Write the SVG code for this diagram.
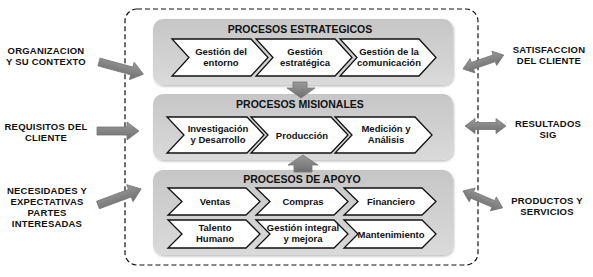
<svg xmlns="http://www.w3.org/2000/svg" width="593" height="277" viewBox="0 0 593 277">
<defs>
<linearGradient id="pg" x1="0" y1="0" x2="0" y2="1">
<stop offset="0" stop-color="#c6c6c6"/>
<stop offset="1" stop-color="#dadada"/>
</linearGradient>
<linearGradient id="ag" x1="0" y1="0" x2="0" y2="1">
<stop offset="0" stop-color="#9a9a9a"/>
<stop offset="1" stop-color="#6e6e6e"/>
</linearGradient>
<filter id="sh" x="-5%" y="-5%" width="110%" height="115%">
<feDropShadow dx="1" dy="1.5" stdDeviation="1" flood-color="#000" flood-opacity="0.25"/>
</filter>
</defs>
<style>
.panel{fill:url(#pg);filter:url(#sh)}
.chev{fill:#fff;stroke:#111;stroke-width:1.3;stroke-linejoin:miter}
.t{font-family:"Liberation Sans",Arial,sans-serif;font-weight:bold;fill:#111;text-anchor:middle}
.title{font-size:10.5px}
.ct{font-size:9.5px}
.st{font-size:9.5px;letter-spacing:0.2px}
.arr{fill:url(#ag);stroke:#777;stroke-width:0.8}
.dash{fill:none;stroke:#111;stroke-width:1.2;stroke-dasharray:5,3}
</style>
<rect width="593" height="277" fill="#fff"/>
<rect class="dash" x="125" y="9" width="353" height="256" rx="12"/>

<g id="estrategicos">
<rect class="panel" x="153" y="19" width="300" height="66" rx="10"/>
<text class="t title" x="300" y="33">PROCESOS ESTRATEGICOS</text>
</g>
<g id="gestion-entorno">
<path class="chev" d="M172,39 L251,39 L268,57.5 L251,76 L172,76 L189,57.5 Z"/>
<text class="t ct" x="221" y="55">Gestión del</text>
<text class="t ct" x="221" y="66">entorno</text>
</g>
<g id="gestion-estrategica">
<path class="chev" d="M256,39 L335,39 L352,57.5 L335,76 L256,76 L273,57.5 Z"/>
<text class="t ct" x="305" y="55">Gestión</text>
<text class="t ct" x="305" y="66">estratégica</text>
</g>
<g id="gestion-comunicacion">
<path class="chev" d="M340,39 L419,39 L436,57.5 L419,76 L340,76 L357,57.5 Z"/>
<text class="t ct" x="389" y="55">Gestión de la</text>
<text class="t ct" x="389" y="66">comunicación</text>
</g>

<g id="misionales">
<rect class="panel" x="153" y="94" width="300" height="66" rx="10"/>
<text class="t title" x="300" y="108">PROCESOS MISIONALES</text>
</g>
<g id="investigacion">
<path class="chev" d="M167,117 L247,117 L264,135 L247,153 L167,153 L184,135 Z"/>
<text class="t ct" x="218" y="132">Investigación</text>
<text class="t ct" x="218" y="143">y Desarrollo</text>
</g>
<g id="produccion">
<path class="chev" d="M251,117 L331,117 L348,135 L331,153 L251,153 L268,135 Z"/>
<text class="t ct" x="302" y="138.5">Producción</text>
</g>
<g id="medicion">
<path class="chev" d="M335,117 L415,117 L432,135 L415,153 L335,153 L352,135 Z"/>
<text class="t ct" x="386" y="132">Medición y</text>
<text class="t ct" x="386" y="143">Análisis</text>
</g>

<g id="apoyo">
<rect class="panel" x="153" y="170" width="300" height="85" rx="10"/>
<text class="t title" x="302" y="183">PROCESOS DE APOYO</text>
</g>
<g id="ventas">
<path class="chev" d="M168,188 L246,188 L260,201.5 L246,215 L168,215 L182,201.5 Z"/>
<text class="t ct" x="215" y="205">Ventas</text>
</g>
<g id="compras">
<path class="chev" d="M256,188 L334,188 L348,201.5 L334,215 L256,215 L270,201.5 Z"/>
<text class="t ct" x="303" y="205">Compras</text>
</g>
<g id="financiero">
<path class="chev" d="M344,188 L422,188 L436,201.5 L422,215 L344,215 L358,201.5 Z"/>
<text class="t ct" x="391" y="205">Financiero</text>
</g>
<g id="talento-humano">
<path class="chev" d="M168,220 L246,220 L260,234 L246,248 L168,248 L182,234 Z"/>
<text class="t ct" x="215" y="231">Talento</text>
<text class="t ct" x="215" y="242">Humano</text>
</g>
<g id="gestion-integral">
<path class="chev" d="M256,220 L334,220 L348,234 L334,248 L256,248 L270,234 Z"/>
<text class="t ct" x="303" y="231">Gestión integral</text>
<text class="t ct" x="303" y="242">y mejora</text>
</g>
<g id="mantenimiento">
<path class="chev" d="M344,220 L422,220 L436,234 L422,248 L344,248 L358,234 Z"/>
<text class="t ct" x="391" y="237.5">Mantenimiento</text>
</g>

<g id="organizacion">
<text class="t st" x="46" y="54">ORGANIZACION</text>
<text class="t st" x="46" y="65">Y SU CONTEXTO</text>
</g>
<g id="requisitos">
<text class="t st" x="46" y="130">REQUISITOS DEL</text>
<text class="t st" x="46" y="141">CLIENTE</text>
</g>
<g id="necesidades">
<text class="t st" x="47" y="194">NECESIDADES Y</text>
<text class="t st" x="47" y="205">EXPECTATIVAS</text>
<text class="t st" x="47" y="216">PARTES</text>
<text class="t st" x="47" y="227">INTERESADAS</text>
</g>
<g id="satisfaccion">
<text class="t st" x="549" y="53">SATISFACCION</text>
<text class="t st" x="549" y="64">DEL CLIENTE</text>
</g>
<g id="resultados">
<text class="t st" x="548" y="127">RESULTADOS</text>
<text class="t st" x="548" y="138">SIG</text>
</g>
<g id="productos">
<text class="t st" x="547" y="204">PRODUCTOS Y</text>
<text class="t st" x="547" y="215">SERVICIOS</text>
</g>

<g id="connectors">
<path class="arr" d="M293,82 L307,82 L307,88 L315,88 L301,98 L287,88 L293,88 Z"/>
<path class="arr" d="M303,155 L318,165 L312,165 L312,172 L294,172 L294,165 L288,165 Z"/>
<path class="arr" transform="translate(99,62) rotate(15.3)" d="M0,-4 L34,-4 L34,-9 L46,0 L34,9 L34,4 L0,4 Z"/>
<path class="arr" transform="translate(97,131)" d="M0,-4 L30,-4 L30,-9 L42,0 L30,9 L30,4 L0,4 Z"/>
<path class="arr" transform="translate(98,205) rotate(-20.4)" d="M0,-4 L34,-4 L34,-9 L46,0 L34,9 L34,4 L0,4 Z"/>
<path class="arr" transform="translate(463,69) rotate(-18.9)" d="M0,0 L10,-7.5 L10,-3.5 L33,-3.5 L33,-7.5 L43,0 L33,7.5 L33,3.5 L10,3.5 L10,7.5 Z"/>
<path class="arr" transform="translate(465,126)" d="M0,0 L10,-7.5 L10,-3.5 L31,-3.5 L31,-7.5 L41,0 L31,7.5 L31,3.5 L10,3.5 L10,7.5 Z"/>
<path class="arr" transform="translate(463,191) rotate(23)" d="M0,0 L10,-7.5 L10,-3.5 L33,-3.5 L33,-7.5 L43,0 L33,7.5 L33,3.5 L10,3.5 L10,7.5 Z"/>
</g>
</svg>
